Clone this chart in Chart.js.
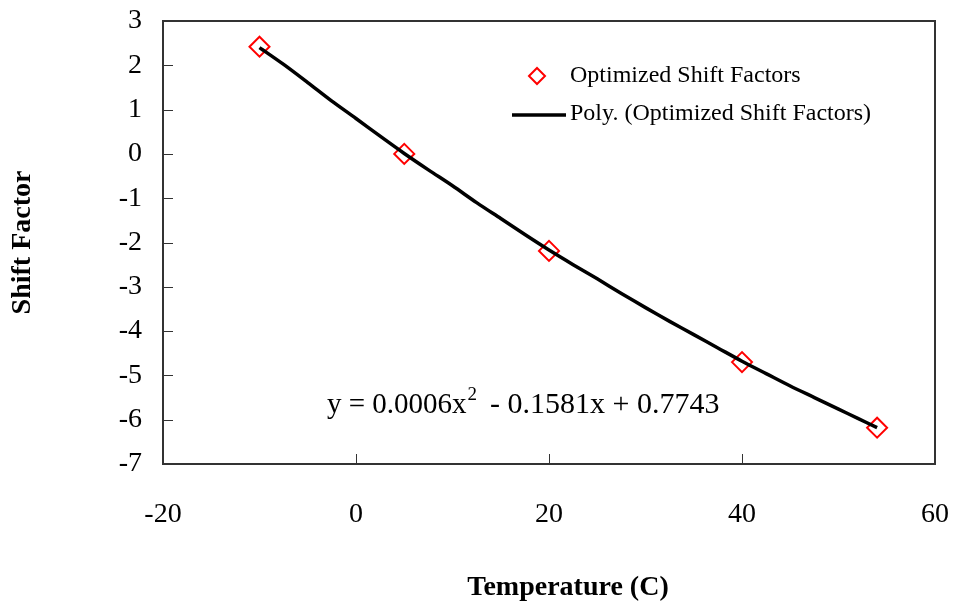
<!DOCTYPE html>
<html>
<head>
<meta charset="utf-8">
<script src="https://cdn.jsdelivr.net/npm/chart.js@4.4.1/dist/chart.umd.min.js"></script>
<style>
  html, body { margin: 0; padding: 0; background: #fff; }
  #wrap { width: 957px; height: 610px; }
</style>
</head>
<body>
<div id="wrap"><canvas id="c" width="957" height="610"></canvas></div>
<script>
var serif = '"Liberation Serif", "Times New Roman", serif';
var red = '#ff0000';
var frameColor = '#333333';

// measured shift factors
var tempC = [-10, 5, 20, 40, 54];
var shiftFactor = [2.42, 0.0, -2.19, -4.70, -6.18];

// trend line
var fitTemp = [-10, -7.5, -5, -2.5, 0, 2.5, 5, 7.5, 10, 12.5, 15, 17.5, 20, 22.5, 25, 27.5, 30, 32.5, 35, 37.5, 40, 42.5, 45, 47.5, 50, 52, 54];
var fitShift = [2.40, 2.02, 1.61, 1.19, 0.80, 0.40, 0.01, -0.36, -0.72, -1.10, -1.46, -1.82, -2.17, -2.50, -2.82, -3.15, -3.47, -3.78, -4.08, -4.38, -4.68, -4.96, -5.24, -5.50, -5.76, -5.97, -6.18];

var xRange = [-20, 60, 20];
var yRange = [-7, 3, 1];

var xTitle = 'Temperature (C)';
var yTitle = 'Shift Factor';
var seriesName = 'Optimized Shift Factors';
var trendName = 'Poly. (Optimized Shift Factors)';
var equation = ['y = 0.0006x', '2', '- 0.1581x + 0.7743'];

function pairs(xs, ys) {
  return xs.map(function(x, i) { return { x: x, y: ys[i] }; });
}

// frame, inward ticks, legend, x title and equation like the spreadsheet chart
var excelBits = {
  id: 'excelBits',
  afterDatasetsDraw: function(chart) {
    var ctx = chart.ctx, a = chart.chartArea;
    var xs = chart.scales.x, ys = chart.scales.y;
    ctx.save();
    ctx.strokeStyle = frameColor;
    ctx.lineWidth = 1;
    ys.ticks.forEach(function(t) {
      var py = Math.round(ys.getPixelForValue(t.value)) + 0.5;
      ctx.beginPath(); ctx.moveTo(a.left, py); ctx.lineTo(a.left + 10, py); ctx.stroke();
    });
    xs.ticks.forEach(function(t) {
      var px = Math.round(xs.getPixelForValue(t.value)) + 0.5;
      ctx.beginPath(); ctx.moveTo(px, a.bottom); ctx.lineTo(px, a.bottom - 10); ctx.stroke();
    });
    ctx.lineWidth = 2;
    ctx.strokeRect(a.left, a.top, a.right - a.left, a.bottom - a.top);

    // legend
    var lx = a.left + 349;
    var ly1 = a.top + 55, ly2 = a.top + 94;
    ctx.strokeStyle = red; ctx.lineWidth = 2;
    ctx.beginPath();
    ctx.moveTo(lx + 25 - 8, ly1); ctx.lineTo(lx + 25, ly1 - 8);
    ctx.lineTo(lx + 25 + 8, ly1); ctx.lineTo(lx + 25, ly1 + 8); ctx.closePath();
    ctx.stroke();
    ctx.strokeStyle = '#000'; ctx.lineWidth = 3.5;
    ctx.beginPath(); ctx.moveTo(lx, ly2); ctx.lineTo(lx + 54, ly2); ctx.stroke();
    ctx.fillStyle = '#000';
    ctx.font = '24px ' + serif;
    ctx.textBaseline = 'middle';
    ctx.fillText(seriesName, lx + 58, ly1);
    ctx.fillText(trendName, lx + 58, ly2 - 1);

    // x axis title, a little right of centre as in the original
    ctx.font = 'bold 28px ' + serif;
    ctx.textAlign = 'center';
    ctx.fillText(xTitle, (a.left + a.right) / 2 + 19, chart.height - 22);
    ctx.textAlign = 'left';

    // trend line equation
    var ex = a.left + 164, ey = a.top + 392;
    ctx.textBaseline = 'alphabetic';
    ctx.font = '29px ' + serif;
    ctx.fillText(equation[0], ex, ey);
    var w0 = ctx.measureText(equation[0]).width;
    ctx.font = '19px ' + serif;
    ctx.fillText(equation[1], ex + w0 + 1, ey - 13);
    var w1 = ctx.measureText(equation[1]).width;
    ctx.font = '30px ' + serif;
    ctx.fillText(equation[2], ex + w0 + w1 + 14, ey);
    ctx.restore();
  }
};

new Chart(document.getElementById('c').getContext('2d'), {
  type: 'scatter',
  data: {
    datasets: [
      { label: trendName, type: 'line', data: pairs(fitTemp, fitShift), borderColor: '#000', borderWidth: 3.5,
        pointRadius: 0, fill: false, tension: 0.3, order: 0 },
      { label: seriesName, data: pairs(tempC, shiftFactor), pointStyle: 'rectRot', pointRadius: 10,
        borderColor: red, borderWidth: 2, backgroundColor: 'rgba(0,0,0,0)', order: 1 }
    ]
  },
  options: {
    responsive: false, animation: false, devicePixelRatio: 1,
    layout: { padding: { top: 21, right: 22, left: 0, bottom: 0 } },
    plugins: { legend: { display: false }, tooltip: { enabled: false } },
    scales: {
      x: {
        type: 'linear', min: xRange[0], max: xRange[1],
        ticks: { stepSize: xRange[2], padding: 34, color: '#000', font: { family: serif, size: 28 } },
        grid: { display: false, drawTicks: false }, border: { display: false },
        title: { display: false },
        afterFit: function(s) { s.height = 146; s.paddingLeft = 0; s.paddingRight = 0; }
      },
      y: {
        type: 'linear', min: yRange[0], max: yRange[1],
        ticks: { stepSize: yRange[2], padding: 21, color: '#000', font: { family: serif, size: 28 } },
        grid: { display: false, drawTicks: false }, border: { display: false },
        title: { display: true, text: yTitle, color: '#000', padding: { top: 6, bottom: 0 },
          font: { family: serif, size: 28, weight: 'bold' } },
        afterFit: function(s) { s.width = 163; s.paddingTop = 0; s.paddingBottom = 0; }
      }
    }
  },
  plugins: [excelBits]
});
</script>
</body>
</html>
